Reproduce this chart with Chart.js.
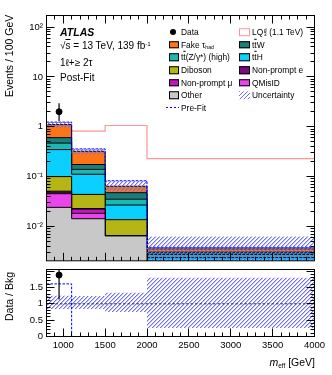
<!DOCTYPE html>
<html><head><meta charset="utf-8">
<script src="https://cdn.jsdelivr.net/npm/chart.js@4.4.1/dist/chart.umd.min.js"></script>
<style>
html,body{margin:0;padding:0;background:#fff;}
#wrap{position:relative;width:332px;height:375px;overflow:hidden;font-family:"Liberation Sans",Arial,Helvetica,sans-serif;color:#000;}
canvas{position:absolute;left:0;}
#cMain{top:0;}
#cRatio{top:260px;}
.t{position:absolute;white-space:nowrap;line-height:1;transform:translateY(-50%);}
.lg{font-size:8.4px;}
.sw{position:absolute;width:10.5px;height:7.5px;box-sizing:border-box;border:1px solid #000;transform:translateY(-50%);}
.ob{text-decoration:overline;}
sub{font-size:.62em;vertical-align:-.3em;line-height:0;}
sup{font-size:.62em;vertical-align:.45em;line-height:0;}
.ss{display:inline-block;position:relative;width:.45em;height:1em;vertical-align:top;font-size:1em;}
.ss span{position:absolute;left:.5px;font-size:.62em;line-height:1;}
.ss .su{top:-.15em;}
.ss .sb{top:.75em;}
.rot{position:absolute;white-space:nowrap;line-height:1;transform-origin:0 0;transform:rotate(-90deg);font-size:10.5px;}
</style></head>
<body>
<div id="wrap">
<canvas id="cMain" width="332" height="270"></canvas>
<canvas id="cRatio" width="332" height="115"></canvas>

<div class="t" style="left:60px;top:32px;font-size:10.5px;font-weight:bold;font-style:italic;">ATLAS</div>
<div class="t" style="left:60px;top:46px;font-size:10px;">√<span class="ob">s</span> = 13 TeV, 139 fb<sup>-1</sup></div>
<div class="t" style="left:60px;top:62.5px;font-size:10px;">1ℓ+≥ 2τ</div>
<div class="t" style="left:60px;top:77.5px;font-size:10px;">Post-Fit</div>

<div class="rot" style="left:4px;top:97px;">Events / 100 GeV</div>
<div class="rot" style="left:4px;top:321px;">Data / Bkg</div>
<div class="t" style="right:17px;top:362px;font-size:10.5px;"><i>m</i><sub>eff</sub> [GeV]</div>

<div id="legend"></div>
</div>
<script>
// ---------------- data ----------------
const binEdges = [800, 1100, 1500, 2000, 4000];
const dataX = [950];
const dataY = [2.0];
const dataErrLo = [1.30];
const dataErrHi = [2.95];

const other   = [0.0241, 0.01426, 0.00644, 0.0012];
const qmisid  = [0.0212, 0.0040, 0, 0];
const npmu    = [0.0015, 0.0040, 0, 0];
const npe     = [0.0041, 0.0006, 0, 0];
const diboson = [0.049, 0.021, 0.0072, 0.0004];
const ttH     = [0.248, 0.0675, 0.0132, 0.00076];
const ttZ     = [0.122, 0.028, 0.0083, 0.00038];
const ttW     = [0.134, 0.035, 0.0123, 0.00031];
const fakeTau = [0.50, 0.1474, 0.0164, 0.00049];

const prefit   = [1.24, 0.359, 0.0824, 0.0038];
const signalLQ = [0.80, 0.82, 1.06, 0.23];
const uncHi    = [1.24, 0.36, 0.082, 0.0063];
const uncLo    = [0.95, 0.28, 0.050, 0.0009];

const ratioData   = [1.88];
const ratioErrLo  = [1.13];
const ratioErrHi  = [2.6];
const ratioPrefit = [1.61, 0, 0, 0];
const ratioUncHi  = [1.25, 1.24, 1.34, 1.80];
const ratioUncLo  = [0.84, 0.84, 0.75, 0.26];

const yMainTicks = [0.01, 0.1, 1, 10, 100];
const yMainTickLabels = ['10⁻²', '10⁻¹', '1', '10', '10²'];
const yRatioTicks = [0, 0.5, 1, 1.5];
const yRatioTickLabels = ['0', '0.5', '1', '1.5'];
const xTicks = [1000, 1500, 2000, 2500, 3000, 3500, 4000];
const xTickLabels = ['1000', '1500', '2000', '2500', '3000', '3500', '4000'];

// ---------------- style ----------------
const FONT = '"Liberation Sans", Arial, Helvetica, sans-serif';
const components = [
  {name:'Other', vals:other, color:'#C8C8C8'},
  {name:'QMisID', vals:qmisid, color:'#EA45EA'},
  {name:'Non-prompt μ', vals:npmu, color:'#C214C2'},
  {name:'Non-prompt e', vals:npe, color:'#7E0A7E'},
  {name:'Diboson', vals:diboson, color:'#B5B515'},
  {name:'ttH', vals:ttH, color:'#0ACFFF'},
  {name:'ttZ', vals:ttZ, color:'#1DB7B3'},
  {name:'ttW', vals:ttW, color:'#17807E'},
  {name:'Fake', vals:fakeTau, color:'#FF7417'}
];
const HATCH_COL = '#6E6EF5';

function makeHatch(){
  const c = document.createElement('canvas'); c.width = 4; c.height = 4;
  const g = c.getContext('2d');
  g.fillStyle = HATCH_COL;
  for (let i=0;i<4;i++) g.fillRect(i, 3-i, 1, 1);
  g.fillStyle = 'rgba(110,110,245,0.4)';
  for (let i=0;i<4;i++) g.fillRect(i, (4-i)%4, 1, 1);
  return g.createPattern(c,'repeat');
}
const hatch = makeHatch();

function steps(vals){
  const pts = vals.map((v,i)=>({x:binEdges[i], y:v}));
  pts.push({x:binEdges[binEdges.length-1], y:vals[vals.length-1]});
  return pts;
}
function base(extra){
  return Object.assign({pointRadius:0, borderWidth:1, stepped:'before', tension:0, fill:false, borderColor:'rgba(0,0,0,0)'}, extra);
}

// inner tick + frame plugin
const innerTicks = {
  id:'innerTicks',
  afterDraw(chart, args, o){
    const {ctx, chartArea:{left,right,top,bottom}} = chart;
    const xs = chart.scales.x, ys = chart.scales.y;
    const r = p => Math.round(p-0.5)+0.5;
    ctx.save();
    ctx.strokeStyle = '#000'; ctx.lineWidth = 1;
    ctx.beginPath();
    const xt = (vals, len) => vals.forEach(v=>{
      const p = r(xs.getPixelForValue(v));
      ctx.moveTo(p,bottom); ctx.lineTo(p,bottom-len);
      if (o.top){ ctx.moveTo(p,top); ctx.lineTo(p,top+len); }
    });
    const yt = (vals, len) => vals.forEach(v=>{
      const p = r(ys.getPixelForValue(v));
      if (p < top-0.1 || p > bottom+0.1) return;
      ctx.moveTo(left,p); ctx.lineTo(left+len,p);
      ctx.moveTo(right,p); ctx.lineTo(right-len,p);
    });
    xt(o.xMajor, o.majLen); xt(o.xMinor, o.minLen);
    yt(o.yMajor, o.majLen); yt(o.yMinor, o.minLen);
    ctx.stroke();
    ctx.strokeRect(left, top, right-left, bottom-top);
    ctx.restore();
  }
};

const xMinor = []; for (let v=800; v<=4000; v+=100) xMinor.push(v);
const yLogMinor = []; for (let e=-3; e<=2; e++) for (let k=2;k<=9;k++) yLogMinor.push(k*Math.pow(10,e));
const yRatioMinor = []; for (let v=0; v<=2.05; v+=0.1) yRatioMinor.push(Math.round(v*10)/10);

// ---------------- main chart ----------------
const mainSets = [];
mainSets.push(base({data:steps(signalLQ), borderColor:'#FF9595', borderWidth:1.2, order:100}));
let cum = [0,0,0,0];
components.forEach((c,k)=>{
  cum = cum.map((v,i)=>v+c.vals[i]);
  mainSets.push(base({data:steps(cum.slice()), borderColor:'#000', backgroundColor:c.color,
    fill: k===0 ? 'start' : '-1', order:50+k}));
});
mainSets.push(base({data:steps(uncLo), borderWidth:0, order:20}));
mainSets.push(base({data:steps(uncHi), borderWidth:0, backgroundColor:hatch, fill:'-1', order:19}));
mainSets.push(base({data:steps(prefit), borderColor:'#0000FF', borderDash:[2.5,1.5], order:10}));
mainSets.push(base({data:[{x:dataX[0],y:dataErrLo[0]},{x:dataX[0],y:dataErrHi[0]}], stepped:false, borderColor:'#000', borderWidth:1.2, order:2}));
mainSets.push(base({data:dataX.map((x,i)=>({x, y:dataY[i]})), stepped:false, showLine:false, pointRadius:3, pointBackgroundColor:'#000', pointBorderColor:'#000', order:1}));

const commonPlugins = {legend:{display:false}, tooltip:{enabled:false}};

new Chart(document.getElementById('cMain'), {
  type:'line',
  data:{datasets:mainSets},
  plugins:[innerTicks],
  options:{
    responsive:false, maintainAspectRatio:false, animation:false, devicePixelRatio:1, events:[],
    layout:{padding:{left:0, right:17.5, top:15.5, bottom:0.5}},
    plugins:Object.assign({}, commonPlugins, {
      innerTicks:{xMajor:xTicks, xMinor:xMinor, yMajor:yMainTicks, yMinor:yLogMinor, majLen:8, minLen:4, top:true}
    }),
    scales:{
      x:{type:'linear', min:800, max:4000, display:false},
      y:{type:'logarithmic', min:0.00204, max:171,
        afterFit(s){ s.width = 46.5; },
        afterBuildTicks(s){ s.ticks = yMainTicks.map(v=>({value:v})); },
        ticks:{callback:(v,i)=>yMainTickLabels[i], font:{family:FONT, size:9.5}, color:'#000', padding:3.5, autoSkip:false},
        grid:{display:false, drawTicks:false}, border:{display:false}
      }
    }
  }
});

// ---------------- ratio chart ----------------
const ratioSets = [
  base({data:steps(ratioUncLo), borderWidth:0, order:30}),
  base({data:steps(ratioUncHi), borderWidth:0, backgroundColor:hatch, fill:'-1', order:29}),
  base({data:[{x:binEdges[0],y:1},{x:binEdges[binEdges.length-1],y:1}], stepped:false, borderColor:'#333', borderDash:[2.5,2], order:20}),
  base({data:steps(ratioPrefit), borderColor:'#0000FF', borderDash:[2.5,1.5], order:10}),
  base({data:[{x:dataX[0],y:ratioErrLo[0]},{x:dataX[0],y:ratioErrHi[0]}], stepped:false, borderColor:'#000', borderWidth:1.2, order:2}),
  base({data:dataX.map((x,i)=>({x, y:ratioData[i]})), stepped:false, showLine:false, pointRadius:3, pointBackgroundColor:'#000', pointBorderColor:'#000', order:1})
];

new Chart(document.getElementById('cRatio'), {
  type:'line',
  data:{datasets:ratioSets},
  plugins:[innerTicks],
  options:{
    responsive:false, maintainAspectRatio:false, animation:false, devicePixelRatio:1, events:[],
    layout:{padding:{left:0, right:17.5, top:9.5, bottom:0}},
    plugins:Object.assign({}, commonPlugins, {
      innerTicks:{xMajor:xTicks, xMinor:xMinor, yMajor:[0,0.5,1,1.5,2], yMinor:yRatioMinor, majLen:8, minLen:4, top:false}
    }),
    scales:{
      x:{type:'linear', min:800, max:4000,
        afterFit(s){ s.height = 38.5; },
        afterBuildTicks(s){ s.ticks = xTicks.map(v=>({value:v})); },
        ticks:{callback:(v,i)=>xTickLabels[i], font:{family:FONT, size:9.5}, color:'#000', padding:3, autoSkip:false, maxRotation:0, minRotation:0},
        grid:{display:false, drawTicks:false}, border:{display:false}
      },
      y:{type:'linear', min:0, max:2.05,
        afterFit(s){ s.width = 46.5; },
        afterBuildTicks(s){ s.ticks = yRatioTicks.map(v=>({value:v})); },
        ticks:{callback:(v,i)=>yRatioTickLabels[i], font:{family:FONT, size:9.5}, color:'#000', padding:3.5, autoSkip:false},
        grid:{display:false, drawTicks:false}, border:{display:false}
      }
    }
  }
});

// ---------------- legend ----------------
const rowsY = [32.3, 44.9, 57.4, 70, 82.5, 95.1, 107.7];
const tt = '<span>t</span><span class="ob">t</span>';
const leftCol = [
  {type:'dot', label:'Data'},
  {type:'box', color:components[8].color, label:'Fake τ<sub>had</sub>'},
  {type:'box', color:components[6].color, label:tt+'(Z/γ*) (high)'},
  {type:'box', color:components[4].color, label:'Diboson'},
  {type:'box', color:components[2].color, label:'Non-prompt μ'},
  {type:'box', color:components[0].color, label:'Other'},
  {type:'dash', label:'Pre-Fit'}
];
const rightCol = [
  {type:'sig', label:'LQ<span class="ss"><span class="su">d</span><span class="sb">3</span></span> (1.1 TeV)'},
  {type:'box', color:components[7].color, label:tt+'W'},
  {type:'box', color:components[5].color, label:tt+'H'},
  {type:'box', color:components[3].color, label:'Non-prompt e'},
  {type:'box', color:components[1].color, label:'QMisID'},
  {type:'hatch', label:'Uncertainty'}
];
let html = '';
function entry(e, y, bx, tx){
  if (e.type==='box') html += `<div class="sw" style="left:${bx}px;top:${y}px;background:${e.color};"></div>`;
  if (e.type==='sig') html += `<div class="sw" style="left:${bx}px;top:${y}px;background:#fff;border-color:#FF9595;"></div>`;
  if (e.type==='hatch') html += `<div class="sw" style="left:${bx}px;top:${y}px;border:none;background:repeating-linear-gradient(135deg, ${HATCH_COL} 0 1px, transparent 1px 2.8px);"></div>`;
  if (e.type==='dot') html += `<div style="position:absolute;left:${bx+1.5}px;top:${y-3}px;width:6px;height:6px;border-radius:50%;background:#000;"></div>`;
  if (e.type==='dash') html += `<div style="position:absolute;left:${bx-3}px;top:${y-0.5}px;width:13px;height:1px;background:repeating-linear-gradient(90deg,#0000FF 0 2.5px,transparent 2.5px 4px);"></div>`;
  html += `<div class="t lg" style="left:${tx}px;top:${y}px;">${e.label}</div>`;
}
leftCol.forEach((e,i)=>entry(e, rowsY[i], 168.5, 181));
rightCol.forEach((e,i)=>entry(e, rowsY[i], 239, 252));
document.getElementById('legend').innerHTML = html;
</script>
</body></html>
